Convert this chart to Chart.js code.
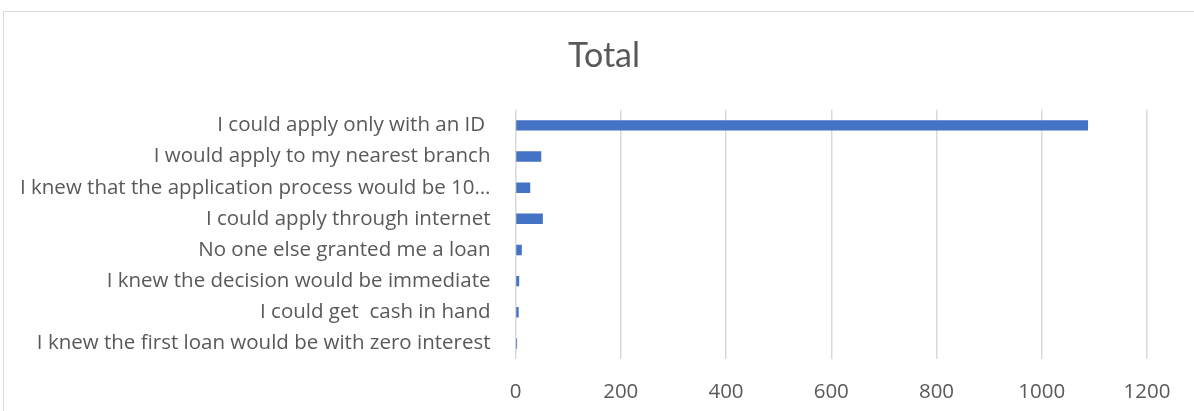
<!DOCTYPE html>
<html>
<head>
<meta charset="utf-8">
<script src="https://cdn.jsdelivr.net/npm/chart.js@4/dist/chart.umd.min.js"></script>
<style>
  html, body { margin: 0; padding: 0; background: #ffffff; overflow: hidden; width: 1194px; height: 411px; }
  #frame { position: absolute; left: 3px; top: 11px; width: 1200px; height: 420px; border: 1px solid #d9d9d9; background: #fff; }
  #chart { display: block; }
</style>
</head>
<body>
<div id="frame"><canvas id="chart" width="1200" height="400"></canvas></div>
<script>
const categories = [
  "I could apply only with an ID ",
  "I would apply to my nearest branch",
  "I knew that the application process would be 10\u2026",
  "I could apply through internet",
  "No one else granted me a loan",
  "I knew the decision would be immediate",
  "I could get  cash in hand",
  "I knew the first loan would be with zero interest"
];
const totals = [1088, 49, 28, 52, 12, 7, 6, 3];
const xTicks = [0, 200, 400, 600, 800, 1000, 1200];

const textColor = "#595959";
const labelFont = "'Open Sans', Lato, sans-serif";
const titleFont = "Lato, 'Open Sans', sans-serif";

// Center the title across the whole chart frame rather than the padded layout width
const fullWidthTitle = {
  id: "fullWidthTitle",
  afterLayout(chart) {
    const t = chart.titleBlock;
    if (t) {
      t.left = 0;
      t.right = chart.width;
      t.width = chart.width;
    }
  }
};

new Chart(document.getElementById("chart"), {
  type: "bar",
  data: {
    labels: categories,
    datasets: [{
      label: "Total",
      data: totals,
      backgroundColor: "#4472C4",
      borderWidth: 0,
      categoryPercentage: 1.0,
      barPercentage: 0.335
    }]
  },
  plugins: [fullWidthTitle],
  options: {
    indexAxis: "y",
    responsive: false,
    animation: false,
    layout: { padding: { left: 0, right: 57, top: 0, bottom: 0 } },
    plugins: {
      legend: { display: false },
      tooltip: { enabled: false },
      title: {
        display: true,
        text: "Total",
        color: textColor,
        font: { family: titleFont, size: 34, weight: "normal", lineHeight: 1.2 },
        padding: { top: 24, bottom: 33 }
      }
    },
    scales: {
      x: {
        min: 0,
        max: 1200,
        afterBuildTicks: (axis) => { axis.ticks = xTicks.map(v => ({ value: v })); },
        afterFit: (axis) => { axis.height = 53; },
        border: { display: false },
        grid: { color: "#d9d9d9", lineWidth: 1.5, drawTicks: false },
        ticks: {
          color: textColor,
          padding: 21,
          font: { family: labelFont, size: 20.5 },
          callback: (v) => String(v)
        }
      },
      y: {
        afterFit: (axis) => { axis.width = 511.5; },
        border: { display: false },
        grid: { display: false, drawTicks: false },
        ticks: {
          color: textColor,
          padding: 25,
          autoSkip: false,
          font: { family: labelFont, size: 20.5 }
        }
      }
    }
  }
});
</script>
</body>
</html>
